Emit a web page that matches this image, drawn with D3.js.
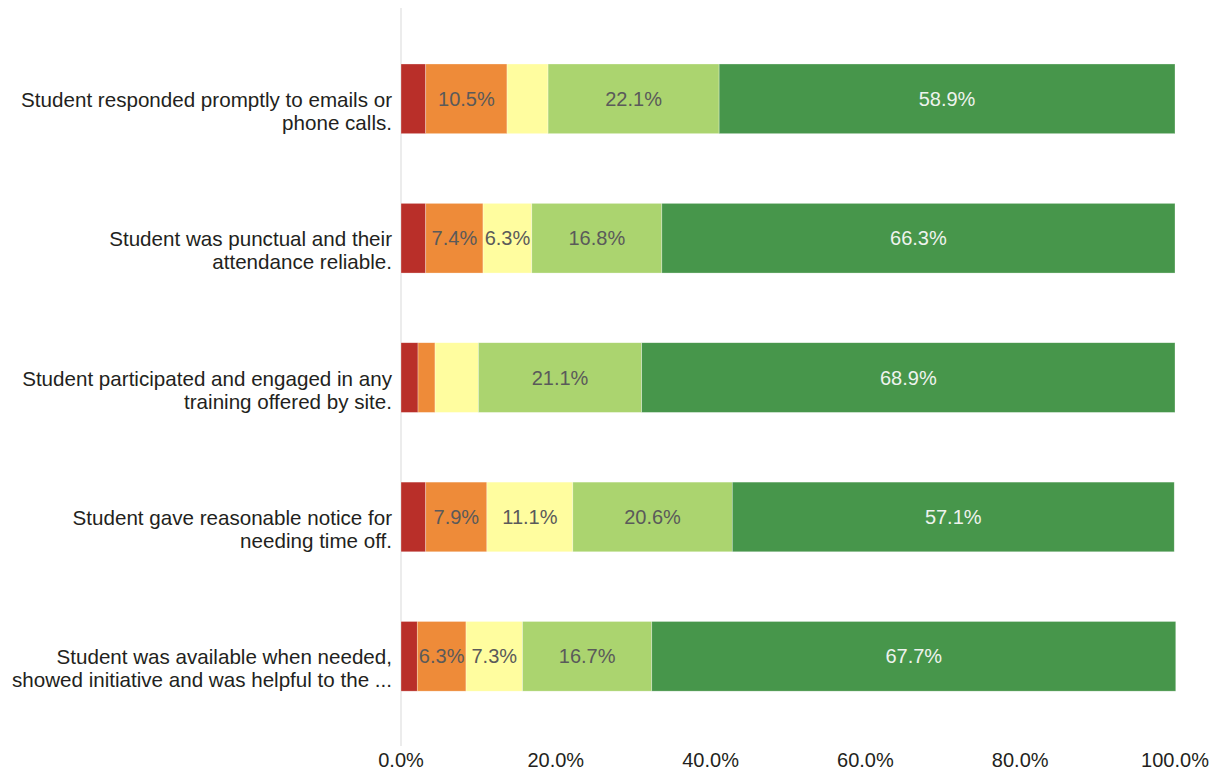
<!DOCTYPE html>
<html>
<head>
<meta charset="utf-8">
<script src="https://cdn.jsdelivr.net/npm/d3@7"></script>
<style>
  body { margin: 0; background: #fff; }
  svg { font-family: "Liberation Sans", Arial, sans-serif; }
</style>
</head>
<body>
<svg width="1220" height="776"></svg>
<script>
// questions, each label split into two lines
const questions = [
  ['Student responded promptly to emails or', 'phone calls.'],
  ['Student was punctual and their', 'attendance reliable.'],
  ['Student participated and engaged in any', 'training offered by site.'],
  ['Student gave reasonable notice for', 'needing time off.'],
  ['Student was available when needed,', 'showed initiative and was helpful to the ...']
];

// percent per response level, worst -> best
const level1 = [3.2, 3.2, 2.2, 3.2, 2.1];
const level2 = [10.5, 7.4, 2.2, 7.9, 6.3];
const level3 = [5.3, 6.3, 5.6, 11.1, 7.3];
const level4 = [22.1, 16.8, 21.1, 20.6, 16.7];
const level5 = [58.9, 66.3, 68.9, 57.1, 67.7];

const colors = ['#b92f29', '#ee8b39', '#fffd9f', '#abd46f', '#47964b'];
const textColors = ['#5a5a5a', '#5a5a5a', '#5a5a5a', '#5a5a5a', '#eef3ee'];
const ticks = [0, 20, 40, 60, 80, 100];

const levels = [level1, level2, level3, level4, level5];
const rows = questions.map((q, i) => {
  const r = { i: i, label: q };
  levels.forEach((l, k) => r['l' + k] = l[i]);
  return r;
});

const svg = d3.select('svg');
const x = d3.scaleLinear().domain([0, 100]).range([401, 1175]);
const y = d3.scaleBand().domain(d3.range(questions.length))
  .range([29.15, 726]).paddingInner(0.5).paddingOuter(0.25);

// left axis line
svg.append('line')
  .attr('x1', x(0)).attr('x2', x(0))
  .attr('y1', 8).attr('y2', 746)
  .attr('stroke', '#e6e6e6').attr('stroke-width', 1.5);

const stack = d3.stack().keys(['l0', 'l1', 'l2', 'l3', 'l4'])(rows);

const groups = svg.selectAll('g.series')
  .data(stack)
  .enter().append('g')
  .attr('class', 'series');

groups.selectAll('rect')
  .data((d) => d)
  .enter().append('rect')
  .attr('x', (d) => x(d[0]))
  .attr('y', (d) => y(d.data.i))
  .attr('width', (d) => x(d[1]) - x(d[0]))
  .attr('height', y.bandwidth())
  .attr('fill', function () { return colors[d3.select(this.parentNode).datum().index]; })
  .attr('stroke', '#ffffff')
  .attr('stroke-opacity', 0.5)
  .attr('stroke-width', 0.6);

// value labels on wide enough segments
groups.each(function (s) {
  d3.select(this).selectAll('text')
    .data(s.filter((d) => d[1] - d[0] >= 6))
    .enter().append('text')
    .attr('x', (d) => (x(d[0]) + x(d[1])) / 2)
    .attr('y', (d) => y(d.data.i) + y.bandwidth() / 2 + 7)
    .attr('text-anchor', 'middle')
    .attr('font-size', 20)
    .attr('fill', textColors[s.index])
    .text((d) => (d[1] - d[0]).toFixed(1) + '%');
});

// category labels
const lab = svg.selectAll('text.cat')
  .data(rows)
  .enter().append('text')
  .attr('class', 'cat')
  .attr('text-anchor', 'end')
  .attr('font-size', 20.6)
  .attr('fill', '#231f20');
lab.append('tspan')
  .attr('x', 392)
  .attr('y', (d) => y(d.i) + y.bandwidth() / 2 + 8)
  .text((d) => d.label[0]);
lab.append('tspan')
  .attr('x', 392)
  .attr('y', (d) => y(d.i) + y.bandwidth() / 2 + 31)
  .text((d) => d.label[1]);

// x tick labels
svg.selectAll('text.tick')
  .data(ticks)
  .enter().append('text')
  .attr('class', 'tick')
  .attr('x', (d) => x(d))
  .attr('y', 767)
  .attr('text-anchor', 'middle')
  .attr('font-size', 20)
  .attr('fill', '#231f20')
  .text((d) => d.toFixed(1) + '%');
</script>
</body>
</html>
